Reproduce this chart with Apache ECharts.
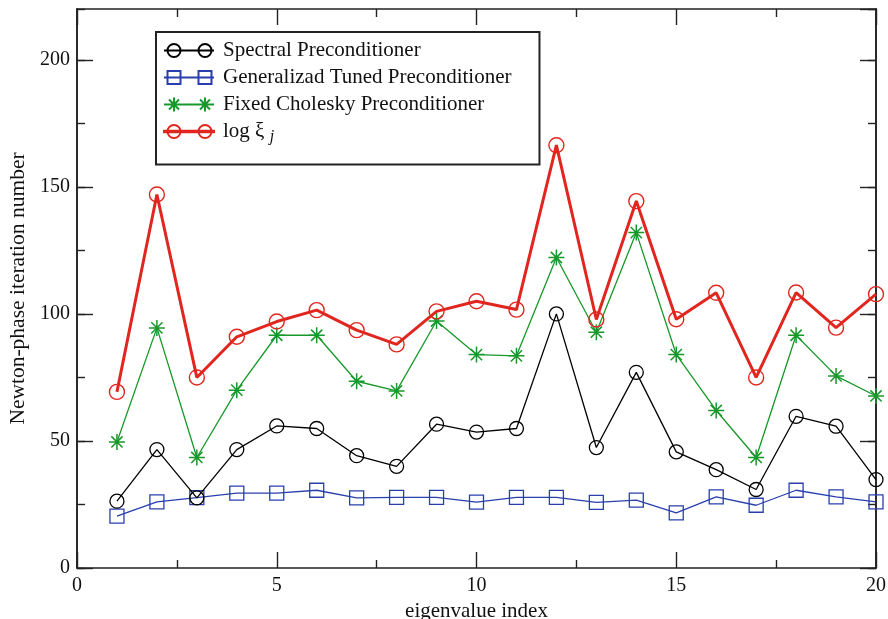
<!DOCTYPE html>
<html>
<head>
<meta charset="utf-8">
<script src="https://cdn.jsdelivr.net/npm/echarts@6/dist/echarts.min.js"></script>
<style>
html, body { margin: 0; padding: 0; background: #fff; }
#chart { width: 888px; height: 619px; }
</style>
</head>
<body>
<div id="chart"></div>
<script>
// data
const eigIndex = [1, 2, 3, 4, 5, 6, 7, 8, 9, 10, 11, 12, 13, 14, 15, 16, 17, 18, 19, 20];
const spectral = [26.3, 46.6, 27.6, 46.6, 55.9, 54.9, 44.2, 40, 56.6, 53.5, 54.9, 100, 47.4, 77, 45.7, 38.7, 30.9, 59.7, 55.8, 34.8];
const generalized = [20.4, 26, 27.7, 29.5, 29.5, 30.6, 27.6, 27.8, 27.8, 25.9, 27.8, 27.8, 25.8, 26.7, 21.7, 28, 24.7, 30.6, 28, 26];
const cholesky = [49.6, 94.5, 43.5, 70, 91.6, 91.6, 73.5, 69.7, 97.2, 84, 83.5, 122.2, 92.8, 132, 84, 62, 43.5, 91.6, 75.6, 67.7];
const logXi = [69.3, 147, 75, 91, 97, 101.5, 93.6, 88, 101, 105, 101.7, 166.4, 97.8, 144.4, 97.9, 108.3, 75, 108.4, 94.6, 107.8];

const FONT = '"Liberation Serif", "DejaVu Serif", serif';
const AXIS_COLOR = '#222';
const starPath = 'path://M0,-1L0,1M-1,0L1,0M-0.7,-0.7L0.7,0.7M-0.7,0.7L0.7,-0.7';

// legend icons: marker - line - marker, like the original figure
const circ = cx => 'M' + (cx - 6.5) + ',7A6.5,6.5 0 1 1 ' + (cx + 6.5) + ',7A6.5,6.5 0 1 1 ' + (cx - 6.5) + ',7Z';
const sq = cx => 'M' + (cx - 6.5) + ',0.5h13v13h-13Z';
const star = cx => 'M' + cx + ',0V14M' + (cx - 7) + ',7H' + (cx + 7) + 'M' + (cx - 5) + ',2L' + (cx + 5) + ',12M' + (cx - 5) + ',12L' + (cx + 5) + ',2';
const iconCircle = 'path://M0,7H50' + circ(10) + circ(41);
const iconSquare = 'path://M0,7H50' + sq(10) + sq(41);
const iconStar = 'path://M0,7H50' + star(10) + star(41);
const iconRed = 'path://M0,6.3h50v1.4h-50Z' + circ(10) + circ(41);

function pairs(vals) {
  return eigIndex.map((x, i) => [x, vals[i]]);
}

// x axes: bottom with labels, top mirrored ticks only
function makeX(pos, withLabels) {
  return {
    type: 'value', position: pos, min: 0, max: 20, interval: 5,
    name: withLabels ? 'eigenvalue index' : '',
    nameLocation: 'middle', nameGap: 32,
    nameTextStyle: { fontFamily: FONT, fontSize: 21, color: '#111' },
    axisLine: { show: true, onZero: false, lineStyle: { color: AXIS_COLOR, width: 1.6 } },
    axisTick: { show: true, inside: true, length: 16, lineStyle: { color: AXIS_COLOR, width: 1.4 } },
    minorTick: { show: true, splitNumber: 2, length: 8, lineStyle: { color: AXIS_COLOR, width: 1.4 } },
    axisLabel: { show: withLabels, margin: 8, fontFamily: FONT, fontSize: 20, color: '#111' },
    splitLine: { show: false }
  };
}

// y axes: major (interval 50) and minor (interval 25) overlaid on each side
function makeY(pos, major, withLabels) {
  return {
    type: 'value', position: pos, offset: 0, min: 0, max: 220,
    interval: major ? 50 : 25,
    name: withLabels ? 'Newton-phase iteration number' : '',
    nameLocation: 'middle', nameGap: 47,
    nameTextStyle: { fontFamily: FONT, fontSize: 21.5, color: '#111' },
    axisLine: { show: true, onZero: false, lineStyle: { color: AXIS_COLOR, width: 1.6 } },
    axisTick: { show: true, inside: true, length: major ? 16 : 8, lineStyle: { color: AXIS_COLOR, width: 1.4 } },
    axisLabel: { show: withLabels, showMaxLabel: false, margin: 7, fontFamily: FONT, fontSize: 20, color: '#111' },
    splitLine: { show: false }
  };
}

const chart = echarts.init(document.getElementById('chart'));
chart.setOption({
  animation: false,
  backgroundColor: '#fff',
  grid: { left: 77, right: 12, top: 9, bottom: 51, outerBoundsMode: 'none', containLabel: false },
  xAxis: [makeX('bottom', true), makeX('top', false)],
  yAxis: [makeY('left', true, true), makeY('left', false, false), makeY('right', true, false), makeY('right', false, false)],
  legend: {
    orient: 'vertical', left: 156, top: 32,
    itemWidth: 50, itemHeight: 14, itemGap: 6,
    padding: [8, 28, 20, 7],
    borderColor: '#222', borderWidth: 2,
    data: [
      { name: 'Spectral Preconditioner', icon: iconCircle },
      { name: 'Generalizad Tuned Preconditioner', icon: iconSquare },
      { name: 'Fixed Cholesky Preconditioner', icon: iconStar },
      { name: 'log ξ j', icon: iconRed }
    ],
    formatter: name => name === 'log ξ j' ? 'log ξ {sub|j}' : name,
    textStyle: {
      fontFamily: FONT, fontSize: 21, color: '#111', padding: [0, 0, 0, 4],
      rich: { sub: { fontFamily: FONT, fontSize: 16, fontStyle: 'italic', color: '#111', padding: [10, 0, 0, 0] } }
    }
  },
  series: [
    {
      name: 'Spectral Preconditioner', type: 'line', z: 3,
      data: pairs(spectral), symbol: 'circle', symbolSize: 14,
      lineStyle: { color: '#000', width: 1.3 },
      itemStyle: { color: 'transparent', borderColor: '#000', borderWidth: 1.3 }
    },
    {
      name: 'Generalizad Tuned Preconditioner', type: 'line', z: 2,
      data: pairs(generalized), symbol: 'rect', symbolSize: 14,
      lineStyle: { color: '#2a3fae', width: 1.3 },
      itemStyle: { color: 'transparent', borderColor: '#2a3fae', borderWidth: 1.3 }
    },
    {
      name: 'Fixed Cholesky Preconditioner', type: 'line', z: 4,
      data: pairs(cholesky), symbol: starPath, symbolSize: 16,
      lineStyle: { color: '#18982a', width: 1.3 },
      itemStyle: { color: '#18982a', borderColor: '#18982a', borderWidth: 1.5 }
    },
    {
      name: 'log ξ j', type: 'line', z: 5,
      data: pairs(logXi), symbol: 'circle', symbolSize: 15,
      lineStyle: { color: '#e0261e', width: 3 },
      itemStyle: { color: 'transparent', borderColor: '#e0261e', borderWidth: 1.4 }
    }
  ]
});
</script>
</body>
</html>
